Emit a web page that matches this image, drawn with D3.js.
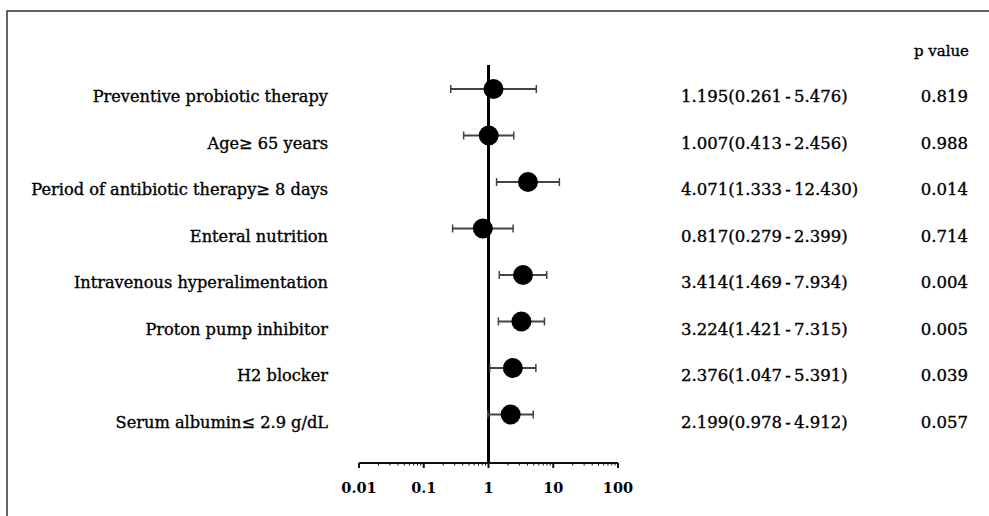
<!DOCTYPE html>
<html><head><meta charset="utf-8">
<script src="https://cdn.jsdelivr.net/npm/d3@7"></script>
<style>body{margin:0;background:#fff}svg{display:block}</style>
</head><body>
<svg id="c" width="989" height="516"></svg>
<script>
const categories = ["Preventive probiotic therapy","Age\u2265 65 years","Period of antibiotic therapy\u2265 8 days","Enteral nutrition","Intravenous hyperalimentation","Proton pump inhibitor","H2 blocker","Serum albumin\u2264 2.9 g/dL"];
const oddsRatio = [1.195,1.007,4.071,0.817,3.414,3.224,2.376,2.199];
const ciLow = [0.261,0.413,1.333,0.279,1.469,1.421,1.047,0.978];
const ciHigh = [5.476,2.456,12.430,2.399,7.934,7.315,5.391,4.912];
const orLabels = ["1.195(0.261\u2009-\u20095.476)","1.007(0.413\u2009-\u20092.456)","4.071(1.333\u2009-\u200912.430)","0.817(0.279\u2009-\u20092.399)","3.414(1.469\u2009-\u20097.934)","3.224(1.421\u2009-\u20097.315)","2.376(1.047\u2009-\u20095.391)","2.199(0.978\u2009-\u20094.912)"];
const pValues = ["0.819","0.988","0.014","0.714","0.004","0.005","0.039","0.057"];
const tickValues = [0.01,0.1,1,10,100];
const tickLabels = ["0.01","0.1","1","10","100"];

const svg = d3.select("#c");
const font = "'DejaVu Serif', serif";
const x = d3.scaleLog().domain([0.01,100]).range([359,618]);
const y = d3.scalePoint().domain(categories).range([89,414.5]);
const axisY = 463;

svg.append("path").attr("d","M7,516V11H989").attr("fill","none").attr("stroke","#333").attr("stroke-width",1.5);

const minor = [];
for (let e=-2;e<2;e++) for (let k=2;k<10;k++) minor.push(k*Math.pow(10,e));
const ax = svg.append("g").attr("transform",`translate(0,${axisY})`);
ax.append("line").attr("x1",x(0.01)).attr("x2",x(100)).attr("stroke","#111").attr("stroke-width",2);
ax.selectAll(".mn").data(minor).join("line").attr("x1",d=>x(d)).attr("x2",d=>x(d)).attr("y1",0).attr("y2",2.5).attr("stroke","#111").attr("stroke-width",1);
ax.selectAll(".mj").data(tickValues).join("line").attr("x1",d=>x(d)).attr("x2",d=>x(d)).attr("y1",0).attr("y2",5).attr("stroke","#111").attr("stroke-width",2);
ax.selectAll(".tl").data(tickValues).join("text").attr("x",d=>x(d)).attr("y",30).attr("text-anchor","middle")
  .attr("font-family",font).attr("font-weight","bold").attr("font-size",14.5).attr("fill","#000").text((d,i)=>tickLabels[i]);

svg.append("line").attr("x1",x(1)).attr("x2",x(1)).attr("y1",65).attr("y2",axisY).attr("stroke","#000").attr("stroke-width",3);

const txt = sel => sel.attr("font-family",font).attr("fill","#000").attr("stroke","#000").attr("stroke-width",0.35);
const rows = svg.selectAll(".row").data(categories).join("g");
rows.append("line").attr("x1",(d,i)=>x(ciLow[i])).attr("x2",(d,i)=>x(ciHigh[i])).attr("y1",d=>y(d)).attr("y2",d=>y(d)).attr("stroke","#444").attr("stroke-width",2);
rows.append("line").attr("x1",(d,i)=>x(ciLow[i])).attr("x2",(d,i)=>x(ciLow[i])).attr("y1",d=>y(d)-4).attr("y2",d=>y(d)+4).attr("stroke","#444").attr("stroke-width",1.5);
rows.append("line").attr("x1",(d,i)=>x(ciHigh[i])).attr("x2",(d,i)=>x(ciHigh[i])).attr("y1",d=>y(d)-4).attr("y2",d=>y(d)+4).attr("stroke","#444").attr("stroke-width",1.5);
rows.append("circle").attr("cx",(d,i)=>x(oddsRatio[i])).attr("cy",d=>y(d)).attr("r",10).attr("fill","#000");
rows.append("text").attr("x",328).attr("y",d=>y(d)+13).attr("text-anchor","end").attr("font-size",16.2).call(txt).text(d=>d);
rows.append("text").attr("x",681).attr("y",d=>y(d)+13).attr("font-size",16.5).call(txt).text((d,i)=>orLabels[i]);
rows.append("text").attr("x",968).attr("y",d=>y(d)+13).attr("text-anchor","end").attr("font-size",16.5).call(txt).text((d,i)=>pValues[i]);
svg.append("text").attr("x",969).attr("y",56).attr("text-anchor","end").attr("font-size",15).call(txt).text("p value");
</script>
</body></html>
